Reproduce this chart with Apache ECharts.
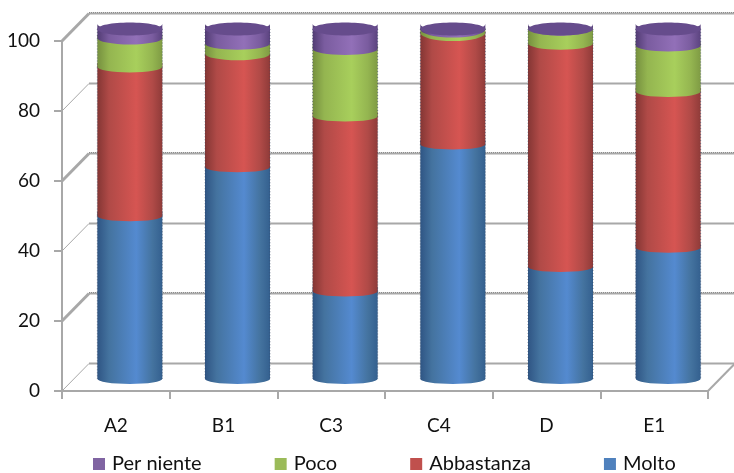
<!DOCTYPE html>
<html><head><meta charset="utf-8">
<style>html,body{margin:0;padding:0;background:#fff}#c{width:734px;height:473px}</style>
<script src="https://cdn.jsdelivr.net/npm/echarts@6/dist/echarts.min.js"></script>
</head><body><div id="c"></div>
<script>
const categories = ['A2','B1','C3','C4','D','E1'];
const yTicks = [0,20,40,60,80,100];
const molto = [46.5,60.5,25,67,32,37.5];
const abbastanza = [42.5,32,50,31,63.5,44.5];
const poco = [8,3,19,1,4,13];
const perNiente = [3,4.5,6,1,0.5,5];
const legendOrder = ['Per niente','Poco','Abbastanza','Molto'];

const FONT = 'Lato';
const AXIS = '#a8a8a8';
const DX = 27, DY = 27.5, BAR_W = 65, RY = 5, CAP_RY = 6.5, OFF_X = 14, OFF_Y = 7;

function grad(edge, mid, edge2){
  return {type:'linear',x:0,y:0,x2:1,y2:0,colorStops:[
    {offset:0,color:edge},{offset:0.18,color:mid[0]},{offset:0.6,color:mid[1]},{offset:0.85,color:mid[0]},{offset:1,color:edge2}]};
}
const styles = {
  'Molto':{fill:grad('#2f5584',['#44739f','#548ad0'],'#34608f'),legend:'#4f81bd'},
  'Abbastanza':{fill:grad('#843634',['#b04a47','#d65552'],'#8f3b39'),legend:'#c0504d'},
  'Poco':{fill:grad('#76903f',['#94b550','#a8cf5c'],'#7f9b44'),legend:'#9bbb59'},
  'Per niente':{fill:grad('#523c74',['#7a5c9f','#9270b8'],'#5b437f'),legend:'#8064a2'}
};
const stackOrder = [['Molto',molto],['Abbastanza',abbastanza],['Poco',poco],['Per niente',perNiente]];

function segSeries(name, vals, baseVals, isTop){
  const data = vals.map((v,i)=>[i, baseVals[i], baseVals[i]+v]);
  return {
    type:'custom', name, coordinateSystem:'cartesian2d', z:3,
    itemStyle:{color:styles[name].legend},
    encode:{x:0,y:[1,2]},
    data,
    renderItem(params, api){
      const c = api.value(0), lo = api.value(1), hi = api.value(2);
      const p0 = api.coord([c, lo]), p1 = api.coord([c, hi]);
      const cx = p0[0] + OFF_X, l = cx - BAR_W/2, r = cx + BAR_W/2;
      const yb = p0[1] - OFF_Y - RY, yt = p1[1] - OFF_Y - RY;
      const d = `M${l} ${yt}L${l} ${yb}A${BAR_W/2} ${RY} 0 0 0 ${r} ${yb}L${r} ${yt}A${BAR_W/2} ${RY} 0 0 1 ${l} ${yt}Z`;
      const children = [{type:'path',shape:{pathData:d,x:l,y:yt-RY,width:BAR_W,height:yb-yt+2*RY,layout:'none'},
        style:{fill:styles[name].fill}, z2:1}];
      const dash = {stroke:'#33425c',lineWidth:1,lineDash:[1,2],opacity:0.55};
      children.push({type:'line',shape:{x1:l,y1:yt,x2:l,y2:yb},style:dash,z2:2});
      children.push({type:'line',shape:{x1:r,y1:yt,x2:r,y2:yb},style:dash,z2:2});
      if(isTop){
        children.push({type:'ellipse',shape:{cx,cy:yt,rx:BAR_W/2,ry:CAP_RY},style:{fill:'#664c8c'},z2:3});
      }
      return {type:'group',children};
    }
  };
}
let base = categories.map(()=>0);
const barSeries = stackOrder.map(([n,vals],idx)=>{
  const s = segSeries(n, vals, base, idx===stackOrder.length-1);
  base = base.map((b,i)=>b+vals[i]);
  return s;
});

const wall = {
  type:'custom', name:'wall', coordinateSystem:'cartesian2d', z:1, silent:true,
  encode:{y:1},
  data: yTicks.map(t=>[0,t]),
  renderItem(params, api){
    const t = api.value(1);
    const p = api.coord([0,t]);
    const x0 = params.coordSys.x, x1 = params.coordSys.x + params.coordSys.width;
    const y = p[1], heavy = (t/20)%2===1;
    const ch = [
      {type:'line',shape:{x1:x0,y1:y,x2:x0+DX,y2:y-DY},style:{stroke:AXIS,lineWidth:heavy?3:1}},
      {type:'line',shape:{x1:x0+DX,y1:y-DY,x2:734,y2:y-DY},style:{stroke:AXIS,lineWidth:2}}
    ];
    if(heavy) ch.push({type:'line',shape:{x1:x0+DX,y1:y-DY-1,x2:734,y2:y-DY-1},style:{stroke:'#8c8c8c',lineWidth:1,lineDash:[1,1]}});
    if(t===0) ch.push({type:'line',shape:{x1:x1,y1:y,x2:x1+DX,y2:y-DY},style:{stroke:AXIS,lineWidth:2}});
    return {type:'group',children:ch};
  }
};

const chart = echarts.init(document.getElementById('c'),null,{renderer:'canvas'});
chart.setOption({
  animation:false,
  backgroundColor:'#fff',
  textStyle:{fontFamily:FONT},
  grid:{left:62,right:26,top:41,bottom:82,containLabel:false},
  legend:{
    data:legendOrder.map(n=>({name:n,itemStyle:{color:styles[n].legend}})),
    left:88, top:449, itemWidth:12, itemHeight:12, itemGap:73, selectedMode:false, icon:'rect',
    textStyle:{fontFamily:FONT,fontSize:20,color:'#111',padding:[0,0,0,2]}
  },
  xAxis:{type:'category',data:categories,
    axisLine:{lineStyle:{color:AXIS,width:2}},
    axisTick:{show:true,length:8,alignWithLabel:false,lineStyle:{color:AXIS,width:2}},
    axisLabel:{fontFamily:FONT,fontSize:19,color:'#111',margin:25},
    splitLine:{show:false}},
  yAxis:{type:'value',min:0,max:100,interval:20,
    axisLine:{show:true,lineStyle:{color:AXIS,width:2}},
    axisTick:{show:true,length:8,lineStyle:{color:AXIS,width:2}},
    axisLabel:{fontFamily:FONT,fontSize:19,color:'#111',margin:22},
    splitLine:{show:false}},
  series:[wall,...barSeries]
});
</script></body></html>
